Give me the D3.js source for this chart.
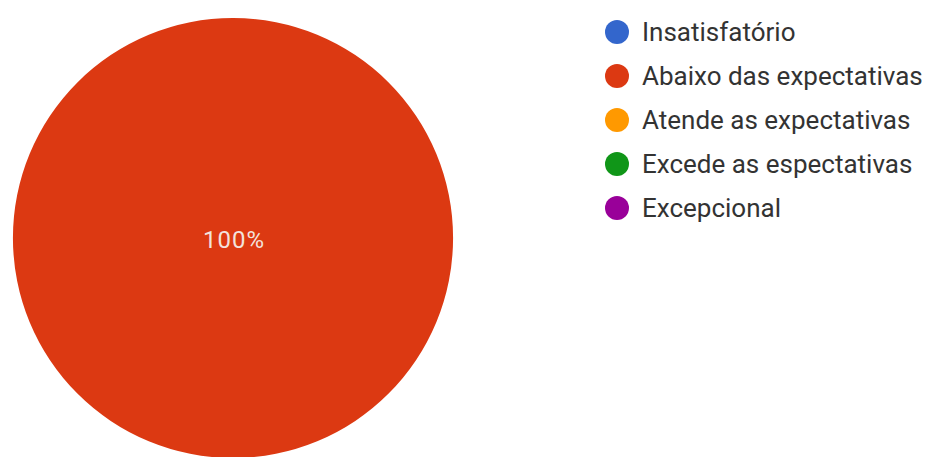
<!DOCTYPE html>
<html>
<head>
<meta charset="utf-8">
<script src="https://cdn.jsdelivr.net/npm/d3@7"></script>
<style>
  html, body { margin: 0; padding: 0; background: #fff; }
  svg { display: block; }
</style>
</head>
<body>
<svg id="chart" width="934" height="457"></svg>
<script>
// Response categories and their share of answers
const categories = ["Insatisfatório", "Abaixo das expectativas", "Atende as expectativas", "Excede as espectativas", "Excepcional"];
const values = [0, 100, 0, 0, 0];
const colors = ["#3366cc", "#dc3912", "#ff9900", "#109618", "#990099"];

const svg = d3.select("#chart");
const cx = 233, cy = 238, radius = 220;

const pie = d3.pie().sort(null).value(d => d.value);
const arcs = pie(categories.map((c, i) => ({ name: c, value: values[i], color: colors[i] })));
const arc = d3.arc().innerRadius(0).outerRadius(radius);

const g = svg.append("g").attr("transform", `translate(${cx},${cy})`);
g.selectAll("path")
  .data(arcs.filter(a => a.value > 0))
  .join("path")
  .attr("d", arc)
  .attr("fill", d => d.data.color);

// Percentage labels at slice centroids (a full circle puts it at the center)
const total = d3.sum(values);
const labelArc = d3.arc().innerRadius(radius * 0.6).outerRadius(radius * 0.6);
g.selectAll("text.pct")
  .data(arcs.filter(a => a.value > 0))
  .join("text")
  .attr("class", "pct")
  .attr("transform", d => (d.endAngle - d.startAngle) >= 2 * Math.PI - 1e-6 ? "translate(1,2)" : `translate(${labelArc.centroid(d)})`)
  .attr("text-anchor", "middle")
  .attr("dy", "0.35em")
  .attr("fill", "#f3e2dc")
  .attr("font-family", "Roboto, sans-serif")
  .attr("font-size", 24)
  .attr("letter-spacing", 1)
  .text(d => Math.round(d.value / total * 100) + "%");

// Legend
const legend = svg.append("g").attr("transform", "translate(617,32)");
const items = legend.selectAll("g")
  .data(categories)
  .join("g")
  .attr("transform", (d, i) => `translate(0,${i * 44})`);
items.append("circle")
  .attr("r", 12)
  .attr("fill", (d, i) => colors[i]);
items.append("text")
  .attr("x", 25)
  .attr("dy", "0.36em")
  .attr("fill", "#333")
  .attr("font-family", "Roboto, sans-serif")
  .attr("font-size", 26)
  .text(d => d);
</script>
</body>
</html>
